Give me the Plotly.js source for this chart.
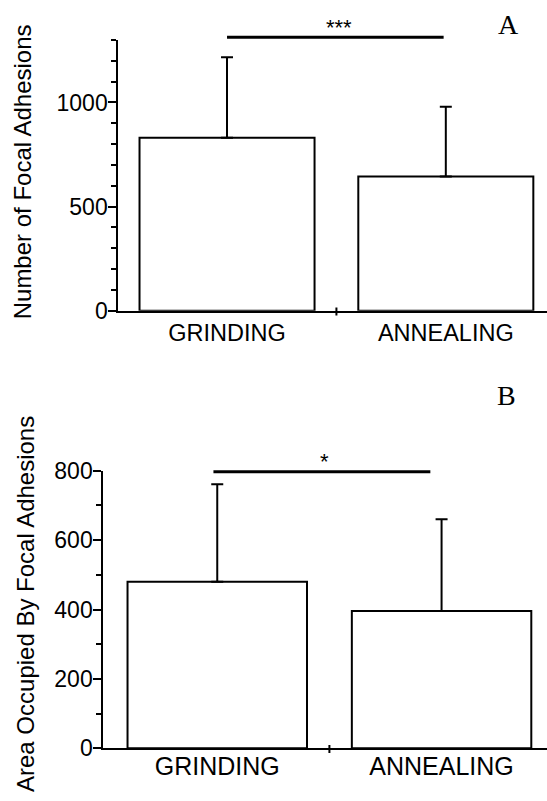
<!DOCTYPE html>
<html>
<head>
<meta charset="utf-8">
<script src="https://cdn.plot.ly/plotly-3.0.1.min.js"></script>
<style>html,body{margin:0;padding:0;background:#fff;}#chart{width:547px;height:801px;}</style>
</head>
<body>
<div id="chart"></div>
<script>
// ---- data ----
var categories = ['GRINDING', 'ANNEALING'];
var focalCountMean = [830, 645];
var focalCountSD = [387, 335];
var focalAreaMean = [480, 396];
var focalAreaSD = [281, 264];
var countTicks = [0, 500, 1000];
var areaTicks = [0, 200, 400, 600, 800];
var panelLabels = ['A', 'B'];
var sigLabels = ['***', '*'];
var yTitles = ['Number of Focal Adhesions', 'Area Occupied By Focal Adhesions'];

var W = 547, H = 801;
var sans = 'Liberation Sans, Arial, sans-serif';
var serif = 'Liberation Serif, Times New Roman, serif';

function barTrace(means, sds, xa, ya) {
  return {
    type: 'bar', x: categories, y: means, xaxis: xa, yaxis: ya,
    width: 0.8,
    marker: {color: '#ffffff', line: {color: '#000', width: 2}},
    error_y: {type: 'data', array: sds, arrayminus: [0, 0], symmetric: false,
              color: '#000', thickness: 2, width: 6},
    showlegend: false, hoverinfo: 'x+y'
  };
}

var data = [
  barTrace(focalCountMean, focalCountSD, 'x', 'y'),
  barTrace(focalAreaMean, focalAreaSD, 'x2', 'y2')
];

function xAx(domainLeft, range, fs, anchor, standoff) {
  return {
    domain: [domainLeft / W, 1], anchor: anchor, type: 'category',
    range: range, ticks: '', ticklabelstandoff: standoff,
    showline: true, linewidth: 2, linecolor: '#000',
    showgrid: false, zeroline: false, fixedrange: true,
    tickfont: {family: sans, size: fs, color: '#000'}
  };
}
function yAx(top, bottom, range, tickvals, anchor) {
  return {
    domain: [(H - bottom) / H, (H - top) / H], anchor: anchor,
    range: range, tickvals: tickvals, ticks: 'outside', ticklen: 8, tickwidth: 2,
    tickcolor: '#000', showline: true, linewidth: 2, linecolor: '#000',
    ticklabelstandoff: -4,
    showgrid: false, zeroline: false, fixedrange: true,
    minor: {dtick: 100, ticks: 'outside', ticklen: 5, tickwidth: 2, tickcolor: '#000', showgrid: false},
    tickfont: {family: sans, size: 23, color: '#000'}
  };
}

// category separator tick crossing each x axis (at the boundary between the two bars)
function sepTick(xref, axisBottomPx) {
  return {type: 'line', xref: xref, yref: 'paper', ysizemode: 'pixel',
          yanchor: (H - axisBottomPx) / H, x0: 0.5, x1: 0.5, y0: -4, y1: 4,
          line: {color: '#000', width: 2}};
}

var layout = {
  width: W, height: H,
  margin: {l: 0, r: 0, t: 0, b: 0},
  paper_bgcolor: '#fff', plot_bgcolor: '#fff',
  showlegend: false,
  xaxis: xAx(118.3, [-0.497, 1.4625], 23.5, 'y', 0),
  yaxis: yAx(40, 310.7, [0, 1300], countTicks, 'x'),
  xaxis2: xAx(103.3, [-0.508, 1.47], 25, 'y2', -5),
  yaxis2: yAx(470.7, 748.3, [0, 800], areaTicks, 'x2'),
  shapes: [
    {type: 'line', xref: 'x', yref: 'paper', x0: 0, x1: 0.99,
     y0: (H - 37.3) / H, y1: (H - 37.3) / H, line: {color: '#000', width: 3}},
    {type: 'line', xref: 'x2', yref: 'paper', x0: -0.017, x1: 0.95,
     y0: (H - 471.7) / H, y1: (H - 471.7) / H, line: {color: '#000', width: 3}},
    sepTick('x', 311.5),
    sepTick('x2', 749)
  ],
  annotations: [
    {text: sigLabels[0], xref: 'x', yref: 'paper', x: 0.51, y: (H - 27.7) / H,
     xanchor: 'center', yanchor: 'middle', showarrow: false,
     font: {family: sans, size: 22, color: '#000'}},
    {text: sigLabels[1], xref: 'x2', yref: 'paper', x: 0.476, y: (H - 461) / H,
     xanchor: 'center', yanchor: 'middle', showarrow: false,
     font: {family: sans, size: 22, color: '#000'}},
    {text: panelLabels[0], xref: 'paper', yref: 'paper', x: 508.3 / W, y: (H - 25) / H,
     xanchor: 'center', yanchor: 'middle', showarrow: false,
     font: {family: serif, size: 28, color: '#000'}},
    {text: panelLabels[1], xref: 'paper', yref: 'paper', x: 506.7 / W, y: (H - 395) / H,
     xanchor: 'center', yanchor: 'middle', showarrow: false,
     font: {family: serif, size: 28, color: '#000'}},
    {text: yTitles[0], xref: 'paper', yref: 'paper', x: 23.3 / W, y: (H - 172) / H,
     xanchor: 'center', yanchor: 'middle', textangle: -90, showarrow: false,
     font: {family: sans, size: 24, color: '#000'}},
    {text: yTitles[1], xref: 'paper', yref: 'paper', x: 25 / W, y: (H - 604) / H,
     xanchor: 'center', yanchor: 'middle', textangle: -90, showarrow: false,
     font: {family: sans, size: 24, color: '#000'}}
  ]
};

Plotly.newPlot('chart', data, layout, {displayModeBar: false, staticPlot: true});
</script>
</body>
</html>
